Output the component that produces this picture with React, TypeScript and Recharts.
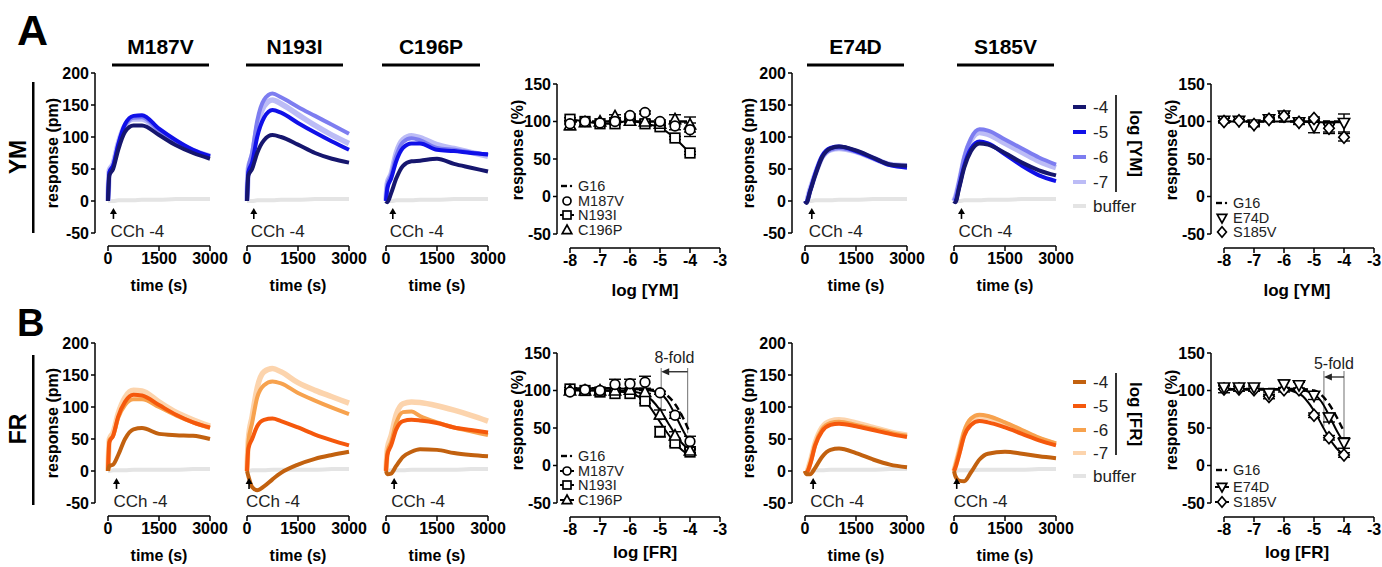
import React from "react";
import {
  ComposedChart,
  ErrorBar,
  Line,
  LineChart,
  ReferenceLine,
  Scatter,
  XAxis,
  YAxis,
} from "recharts";

const FONT = "'Liberation Sans', Arial, Helvetica, sans-serif";

// ---- kinetic traces: time (s) vs response (pm). rows = log conc -4, -5, -6, -7
const TIME = [0, 40, 150, 300, 500, 750, 1000, 1500, 2000, 2500, 3000];
const BUFFER_YM = [0, 0, 0, 1, 1, 1, 2, 2, 3, 3, 3];
const BUFFER_FR = [0, 0, 1, 1, 1, 2, 2, 2, 2, 3, 3];

const YM_M187V = [
  [0, 40, 50, 80, 108, 118, 118, 103, 87, 75, 66],
  [0, 45, 55, 88, 120, 133, 134, 113, 95, 80, 70],
  [0, 45, 55, 88, 118, 130, 131, 110, 93, 79, 69],
  [0, 48, 58, 90, 118, 128, 128, 108, 92, 79, 70],
];
const YM_N193I = [
  [0, 40, 50, 75, 95, 103, 100, 88, 75, 66, 60],
  [0, 45, 60, 100, 130, 142, 138, 122, 107, 93, 80],
  [0, 50, 75, 125, 158, 168, 162, 147, 133, 119, 105],
  [0, 50, 70, 115, 148, 158, 152, 135, 118, 103, 90],
];
const YM_C196P = [
  [0, -2, 12, 35, 55, 62, 63, 66, 58, 52, 46],
  [0, 20, 35, 62, 83, 90, 90, 80, 78, 75, 73],
  [0, 25, 40, 70, 92, 98, 95, 83, 80, 76, 72],
  [0, 28, 42, 75, 96, 102, 99, 88, 82, 76, 70],
];
const YM_E74D = [
  [0, -3, 15, 40, 68, 82, 85, 79, 68, 57, 55],
  [0, -2, 16, 42, 70, 83, 85, 78, 67, 56, 52],
  [0, 0, 17, 42, 68, 80, 83, 77, 67, 57, 54],
  [0, 0, 18, 42, 68, 80, 82, 77, 67, 57, 55],
];
const YM_S185V = [
  [0, -2, 20, 52, 78, 90, 88, 75, 60, 48, 40],
  [0, 0, 22, 55, 82, 93, 90, 73, 55, 40, 31],
  [0, 5, 30, 68, 98, 112, 110, 96, 82, 68, 57],
  [0, 5, 28, 65, 95, 107, 104, 90, 76, 62, 52],
];

const FR_M187V = [
  [0, 8, 10, 25, 50, 65, 67, 58, 56, 55, 50],
  [0, 45, 55, 85, 108, 119, 118, 103, 88, 76, 68],
  [0, 48, 55, 83, 103, 112, 112, 100, 87, 76, 67],
  [0, 50, 60, 90, 115, 126, 125, 108, 92, 80, 70],
];
const FR_N193I = [
  [0, -8, -25, -30, -24, -13, -3, 10, 19, 25, 30],
  [0, 35, 50, 70, 80, 82, 78, 68, 57, 48, 40],
  [0, 45, 75, 115, 134, 140, 137, 122, 110, 99, 89],
  [0, 50, 85, 130, 155, 160, 155, 138, 126, 116, 106],
];
const FR_C196P = [
  [0, -5, -4, 8, 22, 30, 34, 33, 28, 25, 23],
  [0, 25, 40, 65, 78, 80, 79, 75, 68, 64, 60],
  [0, 30, 45, 75, 92, 93, 86, 76, 68, 62, 56],
  [0, 35, 55, 88, 105, 108, 107, 102, 95, 87, 78],
];
const FR_E74D = [
  [0, -5, -5, 5, 22, 33, 35, 28, 18, 10, 6],
  [0, -3, 10, 40, 62, 72, 74, 70, 64, 58, 53],
  [0, -2, 12, 42, 65, 75, 77, 72, 66, 60, 55],
  [0, -2, 14, 44, 68, 78, 80, 75, 68, 61, 56],
];
const FR_S185V = [
  [0, -8, -15, -16, -2, 18, 27, 30, 27, 23, 20],
  [0, 5, 25, 55, 72, 78, 76, 68, 58, 48, 40],
  [0, 8, 30, 62, 82, 88, 86, 76, 64, 52, 43],
  [0, 8, 30, 60, 80, 86, 84, 74, 62, 50, 42],
];

// time of CCh addition (arrow) per panel
const CCH_T_YM = [160, 200, 200, 200, 220];
const CCH_T_FR = [250, 60, 240, 240, 80];

const YM_COLORS = ["#16166e", "#1010e8", "#7d7df0", "#bcbcf6"];
const FR_COLORS = ["#c2610f", "#f5580c", "#f7a24e", "#fcd4ad"];
const BUFFER_COLOR = "#e4e4e4";
const CONC_LABELS = ["-4", "-5", "-6", "-7"];

// ---- concentration response: log [inhibitor] vs response (%)
const LOG_DOSE = [-8, -7.5, -7, -6.5, -6, -5.5, -5, -4.5, -4];

const YM_M187V_RESP = [97, 100, 98, 100, 108, 112, 100, 94, 89];
const YM_M187V_SEM = [0, 0, 0, 0, 2, 2, 2, 5, 9];
const YM_N193I_RESP = [103, 100, 97, 97, 102, 97, 93, 78, 58];
const YM_N193I_SEM = [2, 1, 1, 1, 1, 1, 2, 2, 2];
const YM_C196P_RESP = [95, 99, 100, 107, 101, 100, 97, 103, 96];
const YM_C196P_SEM = [6, 0, 0, 2, 2, 2, 2, 6, 10];

const YM_E74D_RESP = [101, 101, 96, 103, 108, 99, 93, 92, 98];
const YM_E74D_SEM = [3, 1, 3, 2, 3, 3, 8, 8, 12];
const YM_S185V_RESP = [100, 101, 96, 103, 107, 99, 104, 91, 79];
const YM_S185V_SEM = [1, 1, 1, 1, 1, 1, 2, 5, 5];

const FR_M187V_RESP = [98, 101, 100, 108, 109, 111, 97, 67, 32];
const FR_M187V_SEM = [1, 1, 1, 7, 6, 8, 2, 4, 7];
const FR_N193I_RESP = [102, 100, 98, 96, 96, 86, 45, 30, 18];
const FR_N193I_SEM = [2, 1, 1, 1, 1, 3, 7, 4, 3];
const FR_C196P_RESP = [100, 100, 100, 100, 101, 98, 68, 40, 20];
const FR_C196P_SEM = [1, 1, 1, 1, 1, 2, 6, 5, 3];

const FR_E74D_RESP = [104, 104, 104, 96, 108, 107, 93, 64, 30];
const FR_E74D_SEM = [2, 2, 2, 2, 6, 4, 5, 6, 7];
const FR_S185V_RESP = [102, 102, 101, 92, 101, 101, 67, 37, 14];
const FR_S185V_SEM = [5, 3, 2, 3, 3, 2, 3, 3, 3];

// fitted curves
const FIT_X = [-8, -6.5, -6, -5.5, -5, -4.75, -4.5, -4.25, -4];
const YM_G16_FIT = [100, 100, 100, 100, 100, 100, 100, 100, 100];
const YM_E74D_FIT = [100, 100, 100, 100, 99, 99, 99, 99, 99];
const FR_G16_FIT_L = [103, 103, 103, 102, 99, 93, 82, 65, 43];
const FR_M187V_FIT = [103, 103, 102, 101, 96, 86, 68, 48, 30];
const FR_C196P_FIT = [100, 100, 99, 94, 74, 58, 42, 29, 20];
const FR_N193I_FIT = [101, 99, 96, 86, 58, 43, 30, 20, 13];
const FR_G16_FIT_R = [102, 102, 102, 102, 100, 94, 82, 65, 45];
const FR_E74D_FIT = [102, 102, 102, 101, 95, 85, 67, 47, 30];
const FR_S185V_FIT = [101, 101, 101, 96, 73, 55, 37, 23, 14];

type Kind = "circle" | "square" | "triangle" | "down" | "diamond";

function Marker({ kind, cx, cy, r = 4.8 }: { kind: Kind; cx: number; cy: number; r?: number }) {
  const st = { fill: "#fff", stroke: "#000", strokeWidth: 1.7 };
  if (kind === "circle") return <circle cx={cx} cy={cy} r={r} {...st} />;
  if (kind === "square") return <rect x={cx - r} y={cy - r} width={2 * r} height={2 * r} {...st} />;
  if (kind === "triangle")
    return <polygon points={`${cx},${cy - r - 1} ${cx + r + 0.8},${cy + r - 0.3} ${cx - r - 0.8},${cy + r - 0.3}`} {...st} />;
  if (kind === "down")
    return <polygon points={`${cx},${cy + r + 1} ${cx + r + 0.8},${cy - r + 0.3} ${cx - r - 0.8},${cy - r + 0.3}`} {...st} />;
  return <polygon points={`${cx},${cy - r - 1.2} ${cx + r + 0.4},${cy} ${cx},${cy + r + 1.2} ${cx - r - 0.4},${cy}`} {...st} />;
}

const tickStyle = { fill: "#000", fontSize: 16, fontWeight: 700, fontFamily: FONT };
const axisStroke = { stroke: "#000", strokeWidth: 1.5 };

// arrow marking the carbachol addition
const cchArrow = (p: any) => (
  <g>
    <line x1={p.x1} y1={p.y1} x2={p.x2} y2={p.y2 + 4} stroke="#000" strokeWidth={1.6} />
    <polygon points={`${p.x2},${p.y2} ${p.x2 - 3.5},${p.y2 + 6} ${p.x2 + 3.5},${p.y2 + 6}`} fill="#000" />
    <text x={p.x1 - 3} y={p.y1 + 13} fontSize={17} fontFamily={FONT} fill="#222" dominantBaseline="central">
      CCh -4
    </text>
  </g>
);

const PAD_L = 13;
const PLOT_W = 102;
const PLOT_H = 160;
const PAD_B = 13;

function TracePanel({
  x0, y200, showY, series, buffer, colors, cchT,
}: {
  x0: number; y200: number; showY: boolean; series: number[][]; buffer: number[]; colors: string[]; cchT: number;
}) {
  const YW = showY ? 60 : 0;
  const rows = TIME.map((t, i) => ({
    t, buf: buffer[i], c4: series[0][i], c5: series[1][i], c6: series[2][i], c7: series[3][i],
  }));
  const width = YW + PAD_L + PLOT_W + 22;
  const height = 8 + PLOT_H + PAD_B + 30;
  return (
    <div style={{ position: "absolute", left: x0 - PAD_L - YW, top: y200 - 8 }}>
      <LineChart width={width} height={height} data={rows} margin={{ top: 8, right: 22, bottom: 0, left: 0 }}>
        <XAxis
          dataKey="t" type="number" domain={[0, 3000]} ticks={[0, 1500, 3000]} interval={0}
          padding={{ left: PAD_L, right: 0 }} height={30} tickSize={5} tickMargin={2}
          tick={tickStyle} tickLine={axisStroke}
          axisLine={{ ...axisStroke, strokeDasharray: `0 ${PAD_L} ${PLOT_W} 400` }}
        />
        <YAxis
          hide={!showY} width={YW} domain={[-50, 200]} ticks={[-50, 0, 50, 100, 150, 200]} interval={0}
          padding={{ top: 0, bottom: PAD_B }} tickSize={4} tickMargin={2}
          tick={tickStyle} tickLine={axisStroke}
          axisLine={{ ...axisStroke, strokeDasharray: `${PLOT_H} 400` }}
        />
        <Line type="monotone" dataKey="buf" stroke={BUFFER_COLOR} strokeWidth={4} dot={false} isAnimationActive={false} />
        <Line type="monotone" dataKey="c7" stroke={colors[3]} strokeWidth={5.5} dot={false} isAnimationActive={false} />
        <Line type="monotone" dataKey="c6" stroke={colors[2]} strokeWidth={4} dot={false} isAnimationActive={false} />
        <Line type="monotone" dataKey="c5" stroke={colors[1]} strokeWidth={4} dot={false} isAnimationActive={false} />
        <Line type="monotone" dataKey="c4" stroke={colors[0]} strokeWidth={4} dot={false} isAnimationActive={false} />
        <ReferenceLine segment={[{ x: cchT, y: -28 }, { x: cchT, y: -11 }]} shape={cchArrow} />
      </LineChart>
    </div>
  );
}

type PointSet = { resp: number[]; sem: number[]; kind: Kind; joined?: boolean };
type FitSet = { y: number[]; dashed?: boolean };
type Fold = { xl: number; xr: number; top: number; lb: number; rb: number; ay: number; label: string };

const D_PAD_L = 13;
const D_W = 150;
const D_H = 150;
const D_PAD_B = 14;

function DosePanel({
  axisX, y150, sets, fits, fold,
}: { axisX: number; y150: number; sets: PointSet[]; fits: FitSet[]; fold?: Fold }) {
  const YW = 55;
  const foldArrow = (p: any) => (
    <g>
      <line x1={p.x1} y1={p.y1} x2={p.x2 + 6} y2={p.y2} stroke="#222" strokeWidth={1.3} />
      <polygon points={`${p.x2},${p.y2} ${p.x2 + 8},${p.y2 - 3.5} ${p.x2 + 8},${p.y2 + 3.5}`} fill="#222" />
      <text x={(p.x1 + p.x2) / 2} y={p.y1 - 14} textAnchor="middle" dominantBaseline="central"
        fontSize={16} fontFamily={FONT} fill="#222">{fold?.label}</text>
    </g>
  );
  return (
    <div style={{ position: "absolute", left: axisX - YW, top: y150 - 8 }}>
      <ComposedChart width={YW + D_PAD_L + D_W + 12} height={8 + D_H + D_PAD_B + 30}
        margin={{ top: 8, right: 12, bottom: 0, left: 0 }}>
        <XAxis
          dataKey="x" type="number" domain={[-8, -3]} ticks={[-8, -7, -6, -5, -4, -3]} interval={0}
          padding={{ left: D_PAD_L, right: 0 }} height={30} tickSize={5} tickMargin={2}
          tick={tickStyle} tickLine={axisStroke}
          axisLine={{ ...axisStroke, strokeDasharray: `0 ${D_PAD_L} ${D_W} 400` }}
        />
        <YAxis
          width={YW} domain={[-50, 150]} ticks={[-50, 0, 50, 100, 150]} interval={0}
          padding={{ top: 0, bottom: D_PAD_B }} tickSize={4} tickMargin={2}
          tick={tickStyle} tickLine={axisStroke}
          axisLine={{ ...axisStroke, strokeDasharray: `${D_H} 400` }}
        />
        {fold && (
          <>
            <ReferenceLine segment={[{ x: fold.xl, y: fold.lb }, { x: fold.xl, y: fold.top }]} stroke="#888" strokeWidth={1.2} />
            <ReferenceLine segment={[{ x: fold.xr, y: fold.rb }, { x: fold.xr, y: fold.top }]} stroke="#888" strokeWidth={1.2} />
            <ReferenceLine segment={[{ x: fold.xr, y: fold.ay }, { x: fold.xl, y: fold.ay }]} shape={foldArrow} />
          </>
        )}
        {fits.map((f, i) => (
          <Line key={`f${i}`} data={FIT_X.map((x, j) => ({ x, y: f.y[j] }))} dataKey="y" type="monotone"
            stroke="#000" strokeWidth={f.dashed ? 2.4 : 2} strokeDasharray={f.dashed ? "7 4" : undefined}
            dot={false} isAnimationActive={false} />
        ))}
        {sets.filter((s) => s.joined).map((s, i) => (
          <Line key={`j${i}`} data={LOG_DOSE.map((x, j) => ({ x, y: s.resp[j] }))} dataKey="y" type="linear"
            stroke="#000" strokeWidth={2} dot={false} isAnimationActive={false} />
        ))}
        {sets.map((s, i) => (
          <Scatter key={`s${i}`} data={LOG_DOSE.map((x, j) => ({ x, y: s.resp[j], e: s.sem[j] }))}
            dataKey="y" isAnimationActive={false}
            shape={(p: any) => <Marker kind={s.kind} cx={p.cx} cy={p.cy} />}>
            <ErrorBar dataKey="e" direction="y" width={6} stroke="#000" strokeWidth={1.4} />
          </Scatter>
        ))}
      </ComposedChart>
    </div>
  );
}

const TRACE_X0 = [108, 247, 386, 805, 954];
const TITLES = ["M187V", "N193I", "C196P", "E74D", "S185V"];
const TITLE_BARS = [[112, 209], [246, 343], [382, 480], [807, 904], [957, 1054]];

function Legend({ x, colors, rowsY, barTop, barBottom, label }: {
  x: number; colors: string[]; rowsY: number[]; barTop: number; barBottom: number; label: string;
}) {
  return (
    <g fontFamily={FONT}>
      {CONC_LABELS.map((c, i) => (
        <g key={c}>
          <line x1={x} x2={x + 13} y1={rowsY[i]} y2={rowsY[i]} stroke={colors[i]} strokeWidth={4} />
          <text x={x + 20} y={rowsY[i]} fontSize={17} dominantBaseline="central" fill="#222">{c}</text>
        </g>
      ))}
      <line x1={x} x2={x + 13} y1={rowsY[4]} y2={rowsY[4]} stroke={BUFFER_COLOR} strokeWidth={4} />
      <text x={x + 20} y={rowsY[4]} fontSize={17} dominantBaseline="central" fill="#222">buffer</text>
      <line x1={x + 43} x2={x + 43} y1={barTop} y2={barBottom} stroke="#000" strokeWidth={1.6} />
      <text transform={`translate(${x + 62},${(barTop + barBottom) / 2}) rotate(90)`} textAnchor="middle"
        dominantBaseline="central" fontSize={17} fontWeight={700}>{label}</text>
    </g>
  );
}

function DoseLegend({ cx, rowsY, items, lines }: {
  cx: number; rowsY: number[]; items: { kind: Kind | "g16"; name: string; line?: boolean }[]; lines?: boolean;
}) {
  return (
    <g fontFamily={FONT}>
      {items.map((it, i) => (
        <g key={it.name}>
          {it.kind === "g16" ? (
            <>
              <line x1={cx - 6} x2={cx} y1={rowsY[i]} y2={rowsY[i]} stroke="#000" strokeWidth={2.4} />
              <circle cx={cx + 4} cy={rowsY[i]} r={1.2} fill="#000" />
            </>
          ) : (
            <>
              {(lines || it.line) && <line x1={cx - 7} x2={cx + 7} y1={rowsY[i]} y2={rowsY[i]} stroke="#000" strokeWidth={2} />}
              <Marker kind={it.kind} cx={cx} cy={rowsY[i]} r={4} />
            </>
          )}
          <text x={cx + 11} y={rowsY[i]} fontSize={14.5} dominantBaseline="central" fill="#222">{it.name}</text>
        </g>
      ))}
    </g>
  );
}

function Overlay() {
  const rowTop = [0, 270];
  return (
    <svg width={1382} height={567} style={{ position: "absolute", left: 0, top: 0, pointerEvents: "none" }}>
      <g fontFamily={FONT} fill="#000">
        <text x={17} y={45} fontSize={43} fontWeight={700}>A</text>
        <text x={17} y={336} fontSize={38} fontWeight={700}>B</text>
        {TITLES.map((t, i) => (
          <g key={t}>
            <text x={(TITLE_BARS[i][0] + TITLE_BARS[i][1]) / 2} y={54} fontSize={21} fontWeight={700} textAnchor="middle">{t}</text>
            <rect x={TITLE_BARS[i][0]} y={63.5} width={TITLE_BARS[i][1] - TITLE_BARS[i][0]} height={3} />
          </g>
        ))}
        <text transform="translate(18,157) rotate(-90)" textAnchor="middle" dominantBaseline="central" fontSize={23} fontWeight={700}>YM</text>
        <rect x={32} y={82} width={2.5} height={151} />
        <text transform="translate(18,429) rotate(-90)" textAnchor="middle" dominantBaseline="central" fontSize={23} fontWeight={700}>FR</text>
        <rect x={32} y={355} width={2.5} height={150} />
        {rowTop.map((dy, r) => (
          <g key={r}>
            <text transform={`translate(52,${153 + dy}) rotate(-90)`} textAnchor="middle" dominantBaseline="central" fontSize={16} fontWeight={700}>response (pm)</text>
            <text transform={`translate(748,${153 + dy}) rotate(-90)`} textAnchor="middle" dominantBaseline="central" fontSize={16} fontWeight={700}>response (pm)</text>
            <text transform={`translate(517,${150 + dy}) rotate(-90)`} textAnchor="middle" dominantBaseline="central" fontSize={16} fontWeight={700}>response (%)</text>
            <text transform={`translate(1171,${150 + dy}) rotate(-90)`} textAnchor="middle" dominantBaseline="central" fontSize={16} fontWeight={700}>response (%)</text>
            {TRACE_X0.map((x) => (
              <text key={x} x={x + 51} y={285 + dy} textAnchor="middle" dominantBaseline="central" fontSize={16} fontWeight={700}>time (s)</text>
            ))}
            <text x={645} y={r === 0 ? 290 : 552} textAnchor="middle" dominantBaseline="central" fontSize={17} fontWeight={700}>{r === 0 ? "log [YM]" : "log [FR]"}</text>
            <text x={1297} y={r === 0 ? 290 : 552} textAnchor="middle" dominantBaseline="central" fontSize={17} fontWeight={700}>{r === 0 ? "log [YM]" : "log [FR]"}</text>
          </g>
        ))}
      </g>
      <Legend x={1073} colors={YM_COLORS} rowsY={[107, 132, 157, 182, 206]} barTop={95} barBottom={192} label="log [YM]" />
      <Legend x={1073} colors={FR_COLORS} rowsY={[382, 406, 430, 453, 476]} barTop={373} barBottom={455} label="log [FR]" />
      <DoseLegend cx={567} rowsY={[186, 201, 215, 230]} items={[
        { kind: "g16", name: "G16" }, { kind: "circle", name: "M187V" },
        { kind: "square", name: "N193I", line: true }, { kind: "triangle", name: "C196P" }]} />
      <DoseLegend cx={1222} rowsY={[203, 218, 232]} items={[
        { kind: "g16", name: "G16" }, { kind: "down", name: "E74D" }, { kind: "diamond", name: "S185V" }]} />
      <DoseLegend cx={567} lines rowsY={[456, 471, 485, 500]} items={[
        { kind: "g16", name: "G16" }, { kind: "circle", name: "M187V" },
        { kind: "square", name: "N193I" }, { kind: "triangle", name: "C196P" }]} />
      <DoseLegend cx={1222} lines rowsY={[470, 487, 502]} items={[
        { kind: "g16", name: "G16" }, { kind: "down", name: "E74D" }, { kind: "diamond", name: "S185V" }]} />
    </svg>
  );
}

const YM_PANELS = [YM_M187V, YM_N193I, YM_C196P, YM_E74D, YM_S185V];
const FR_PANELS = [FR_M187V, FR_N193I, FR_C196P, FR_E74D, FR_S185V];

export default function App() {
  return (
    <div style={{ position: "fixed", left: 0, top: 0, width: 1382, height: 567, background: "#fff", fontFamily: FONT }}>
      {YM_PANELS.map((s, i) => (
        <TracePanel key={`a${i}`} x0={TRACE_X0[i]} y200={73} showY={i === 0 || i === 3}
          series={s} buffer={BUFFER_YM} colors={YM_COLORS} cchT={CCH_T_YM[i]} />
      ))}
      {FR_PANELS.map((s, i) => (
        <TracePanel key={`b${i}`} x0={TRACE_X0[i]} y200={343} showY={i === 0 || i === 3}
          series={s} buffer={BUFFER_FR} colors={FR_COLORS} cchT={CCH_T_FR[i]} />
      ))}
      <DosePanel axisX={557} y150={84}
        fits={[{ y: YM_G16_FIT, dashed: true }]}
        sets={[
          { resp: YM_N193I_RESP, sem: YM_N193I_SEM, kind: "square", joined: true },
          { resp: YM_C196P_RESP, sem: YM_C196P_SEM, kind: "triangle" },
          { resp: YM_M187V_RESP, sem: YM_M187V_SEM, kind: "circle" },
        ]} />
      <DosePanel axisX={1211} y150={84}
        fits={[{ y: YM_E74D_FIT }, { y: YM_G16_FIT, dashed: true }]}
        sets={[
          { resp: YM_E74D_RESP, sem: YM_E74D_SEM, kind: "down" },
          { resp: YM_S185V_RESP, sem: YM_S185V_SEM, kind: "diamond" },
        ]} />
      <DosePanel axisX={557} y150={353}
        fits={[{ y: FR_N193I_FIT }, { y: FR_C196P_FIT }, { y: FR_M187V_FIT }, { y: FR_G16_FIT_L, dashed: true }]}
        sets={[
          { resp: FR_N193I_RESP, sem: FR_N193I_SEM, kind: "square" },
          { resp: FR_C196P_RESP, sem: FR_C196P_SEM, kind: "triangle" },
          { resp: FR_M187V_RESP, sem: FR_M187V_SEM, kind: "circle" },
        ]}
        fold={{ xl: -4.96, xr: -4.08, top: 130, lb: 60, rb: 43, ay: 125, label: "8-fold" }} />
      <DosePanel axisX={1211} y150={353}
        fits={[{ y: FR_S185V_FIT }, { y: FR_E74D_FIT }, { y: FR_G16_FIT_R, dashed: true }]}
        sets={[
          { resp: FR_S185V_RESP, sem: FR_S185V_SEM, kind: "diamond" },
          { resp: FR_E74D_RESP, sem: FR_E74D_SEM, kind: "down" },
        ]}
        fold={{ xl: -4.67, xr: -4.0, top: 126, lb: 52, rb: 36, ay: 118, label: "5-fold" }} />
      <Overlay />
    </div>
  );
}
